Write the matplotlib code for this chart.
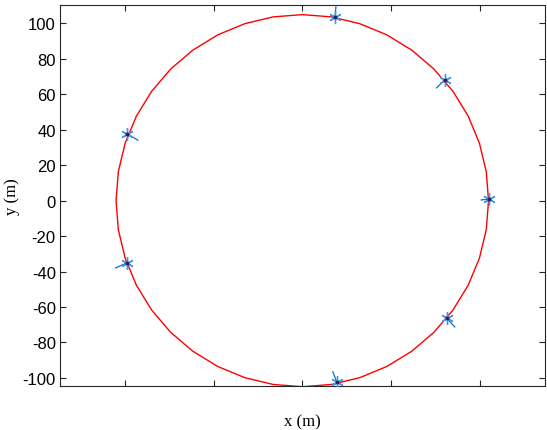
import matplotlib
matplotlib.use("Agg")
import matplotlib.pyplot as plt
from matplotlib.patches import RegularPolygon

# circle (boundary) parameters
circle_radius = 105
circle_vertices = 40

# sensor positions (m)
pts_x = [18.5, 80.3, 105.4, 81.3, 19.5, -98.9, -98.9]
pts_y = [103.8, 68.1, 0.8, -66.2, -102.6, -35.1, 37.8]
# direction vectors drawn from each point (m)
dir_u = [0.6, -4.9, -4.9, 4.9, -2.4, -6.7, 6.5]
dir_v = [7.5, -4.7, -0.4, -5.3, 6.4, -3.0, -3.8]

xticks = [-100, -50, 0, 50, 100]
yticks = [-100, -80, -60, -40, -20, 0, 20, 40, 60, 80, 100]

fig = plt.figure(figsize=(5.47, 4.31), dpi=100)
ax = fig.add_axes([0.1097, 0.102, 0.8859, 0.884])

poly = RegularPolygon((0, 0), numVertices=circle_vertices, radius=circle_radius,
                      fill=False, edgecolor=(1, 0, 0), linewidth=1.0)
ax.add_patch(poly)

ax.quiver(pts_x, pts_y, dir_u, dir_v, angles='xy', scale_units='xy', scale=1,
          color=(0.0, 0.447, 0.741), width=0.0025, headwidth=0, headlength=0,
          headaxislength=0, zorder=3)
ax.plot(pts_x, pts_y, linestyle='none', marker=(6, 2, 0), markersize=9,
        markeredgecolor=(0.3, 0.58, 0.88), markeredgewidth=1.0, zorder=4)
ax.plot(pts_x, pts_y, linestyle='none', marker='o', markersize=1.8,
        color=(0.08, 0.15, 0.45), zorder=5)

ax.set_xlim(-136.6, 136.6)
ax.set_ylim(-104.6, 110.4)
ax.set_xticks(xticks)
ax.set_xticklabels([])
ax.set_yticks(yticks)
ax.set_yticklabels([str(t) for t in yticks], fontfamily='Liberation Sans', fontsize=12)

for s in ax.spines.values():
    s.set_color((0.15, 0.15, 0.15))
    s.set_linewidth(0.8)
ax.tick_params(direction='in', length=4, width=0.8, color=(0.15, 0.15, 0.15),
               top=True, right=True, pad=3)

ax.set_xlabel('x (m)', fontfamily='Liberation Serif', fontsize=12, labelpad=17)
ax.set_ylabel('y (m)', fontfamily='Liberation Serif', fontsize=12, labelpad=2)

fig.savefig('out.png', dpi=100)
